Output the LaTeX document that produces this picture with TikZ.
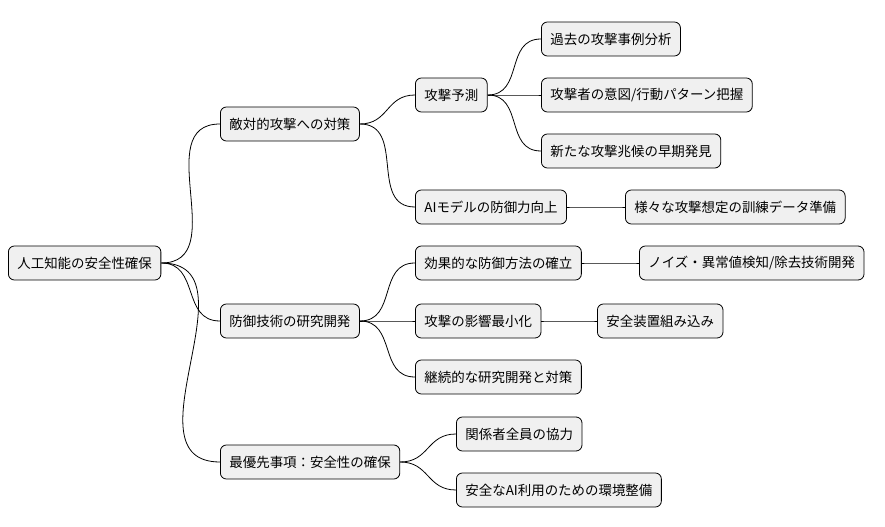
\documentclass[tikz,border=0pt]{standalone}
\usepackage{fontspec}
\setmainfont{Noto Sans CJK JP}
\usetikzlibrary{positioning}

\tikzset{
  topic/.style={draw=black,line width=0.8pt,fill=black!6,rounded corners=6bp,
    minimum height=34bp,inner xsep=9bp,anchor=west,font=\fontsize{13.5}{15}\selectfont},
  branch/.style={line width=0.8pt,out=0,in=180,looseness=1.2}
}

\begin{document}
\begin{tikzpicture}[x=1bp,y=-1bp]
\useasboundingbox (0,0) rectangle (885,527);

\node[topic] (root) at (8,263) {人工知能の安全性確保};

\node[topic] (taisaku) at (220,124) {敵対的攻撃への対策};
\node[topic] (kenkyu) at (220,321) {防御技術の研究開発};
\node[topic] (yusen) at (220,462) {最優先事項：安全性の確保};

\node[topic] (yosoku) at (415,95) {攻撃予測};
\node[topic] (bogyo) at (415,207) {AIモデルの防御力向上};
\node[topic] (kako) at (541,39) {過去の攻撃事例分析};
\node[topic] (ito) at (541,95) {攻撃者の意図/行動パターン把握};
\node[topic] (choko) at (541,151) {新たな攻撃兆候の早期発見};
\node[topic] (kunren) at (625,207) {様々な攻撃想定の訓練データ準備};

\node[topic] (hoho) at (415,263) {効果的な防御方法の確立};
\node[topic] (noise) at (639,263) {ノイズ・異常値検知/除去技術開発};
\node[topic] (eikyo) at (415,321) {攻撃の影響最小化};
\node[topic] (anzen) at (597,321) {安全装置組み込み};
\node[topic] (keizoku) at (415,377) {継続的な研究開発と対策};

\node[topic] (kyoryoku) at (456,434) {関係者全員の協力};
\node[topic] (kankyo) at (456,490) {安全なAI利用のための環境整備};

% connectors
\foreach \a/\b in {root/taisaku,root/kenkyu,root/yusen,
    taisaku/yosoku,taisaku/bogyo,yosoku/kako,yosoku/ito,yosoku/choko,bogyo/kunren,
    kenkyu/hoho,kenkyu/eikyo,kenkyu/keizoku,hoho/noise,eikyo/anzen,
    yusen/kyoryoku,yusen/kankyo}
  \draw[branch] (\a.east) to (\b.west);
\end{tikzpicture}
\end{document}
